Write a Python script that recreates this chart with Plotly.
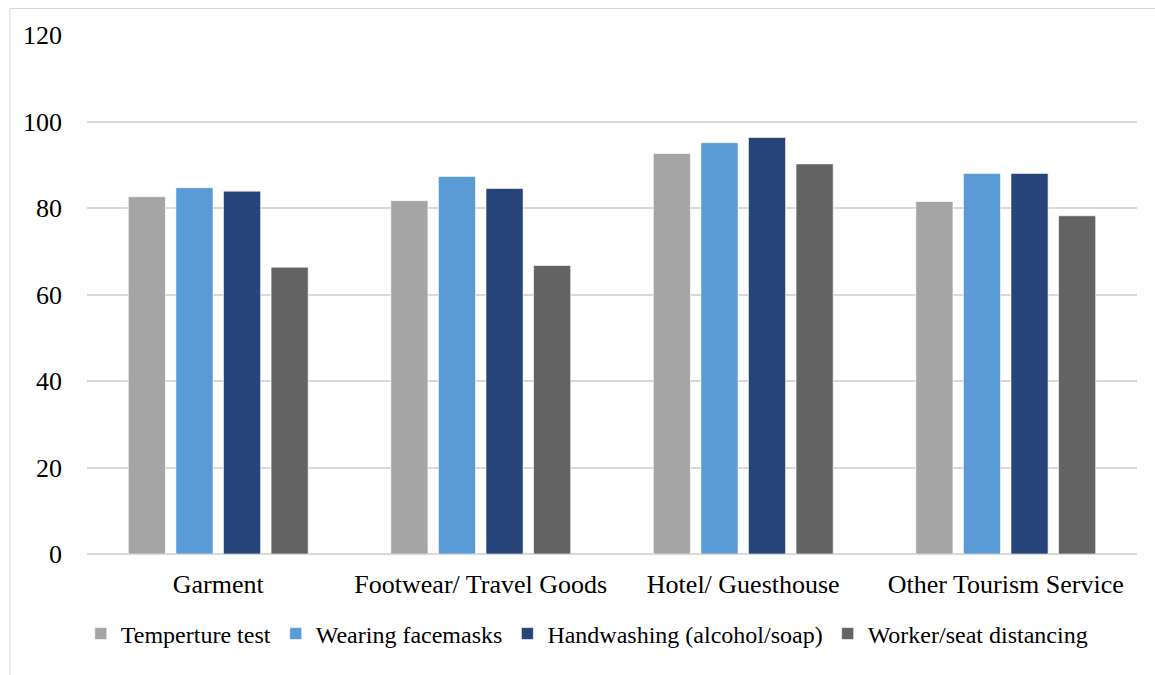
import plotly.graph_objects as go

# Sectors surveyed
categories = ["Garment", "Footwear/ Travel Goods", "Hotel/ Guesthouse", "Other Tourism Service"]

# Share of firms applying each measure (%)
temperature_test = [82.6, 81.7, 92.6, 81.5]
wearing_facemasks = [84.7, 87.3, 95.1, 88.0]
handwashing = [83.9, 84.5, 96.3, 88.0]
worker_distancing = [66.3, 66.7, 90.2, 78.2]

series_names = [
    "Temperture test",
    "Wearing facemasks",
    "Handwashing (alcohol/soap)",
    "Worker/seat distancing",
]
series_values = [temperature_test, wearing_facemasks, handwashing, worker_distancing]
series_colors = ["#A5A5A5", "#5B9BD5", "#264478", "#636363"]

y_ticks = [0, 20, 40, 60, 80, 100, 120]

FONT = "Times New Roman, Liberation Serif, serif"

fig = go.Figure()
for name, vals, col in zip(series_names, series_values, series_colors):
    fig.add_trace(go.Bar(
        x=categories,
        y=vals,
        name=name,
        marker=dict(color=col, line=dict(color="rgba(255,255,255,0.6)", width=1)),
    ))

# Plot area occupies x 87..1137 px, y 35..554 px
L, R, T, B = 87, 18, 35, 121
W, H = 1155, 675
pw, ph = W - L - R, H - T - B

def px_x(p):
    return (p - L) / pw

def px_y(p):
    return (H - B - p) / ph

fig.update_layout(
    width=W,
    height=H,
    margin=dict(l=L, r=R, t=T, b=B),
    paper_bgcolor="white",
    plot_bgcolor="white",
    barmode="group",
    bargap=0.275,
    bargroupgap=0.22,
    font=dict(family=FONT, color="#000000"),
    showlegend=True,
    legend=dict(
        orientation="h",
        x=0.476,
        xanchor="center",
        y=px_y(634),
        yanchor="middle",
        font=dict(family=FONT, size=24, color="#000000"),
        itemwidth=30,
        traceorder="normal",
    ),
    xaxis=dict(
        showgrid=False,
        showline=False,
        ticks="",
        tickfont=dict(family=FONT, size=26, color="#000000"),
        ticklabelstandoff=12,
    ),
    yaxis=dict(
        range=[0, 120],
        tickvals=y_ticks,
        ticktext=[str(v) for v in y_ticks],
        showgrid=True,
        gridcolor="#D9D9D9",
        gridwidth=1.5,
        zeroline=True,
        zerolinecolor="#D9D9D9",
        zerolinewidth=1.5,
        showline=False,
        ticks="",
        tickfont=dict(family=FONT, size=26, color="#000000"),
        ticklabelstandoff=24,
    ),
    shapes=[
        dict(
            type="rect",
            xref="paper", yref="paper",
            x0=px_x(10), x1=px_x(1170),
            y0=px_y(690), y1=px_y(8.5),
            line=dict(color="#D9D9D9", width=1),
            fillcolor="rgba(0,0,0,0)",
            layer="below",
        )
    ],
)

fig.write_html("out.html")
